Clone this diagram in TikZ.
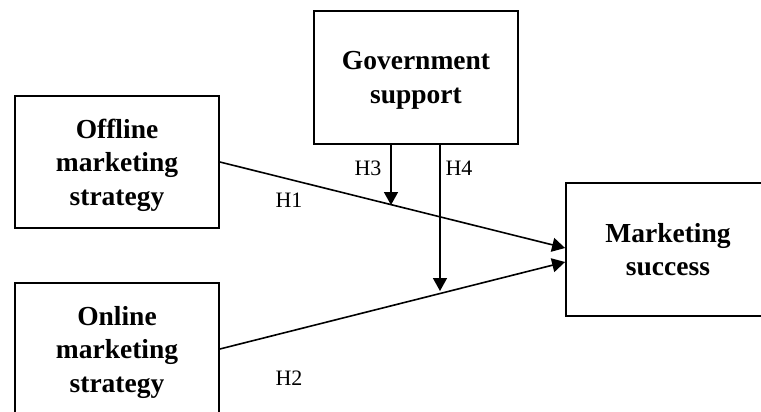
\documentclass[tikz,border=0pt]{standalone}
\usepackage{fontspec}
\setmainfont{Liberation Serif}
\usetikzlibrary{arrows.meta,calc}
\begin{document}
\begin{tikzpicture}[x=1pt,y=-1pt,
  box/.style={draw,line width=1.8pt,minimum width=204pt,minimum height=132pt,align=center,
    font=\bfseries\fontsize{27.5}{33.5}\selectfont,inner sep=0pt,text depth=0pt},
  link/.style={line width=1.6pt,-{Triangle[length=13pt,width=14pt]}},
  hlab/.style={font=\fontsize{22}{26}\selectfont,inner sep=0pt}]
\useasboundingbox (0,0) rectangle (761,412);
\node[box] (off) at (117,162) {Offline\\marketing\\strategy};
\node[box] (onl) at (117,349) {Online\\marketing\\strategy};
\node[box,minimum height=133pt] (gov) at (416,77.5) {Government\\support};
\node[box,minimum height=133pt] (ms) at (668,249.5) {Marketing\\success};
\draw[link] (off.east) -- ([yshift=1.5pt]ms.west);
\draw[link] (onl.east) -- ([yshift=-12.5pt]ms.west);
\coordinate (h3end) at (391,205);
\coordinate (h4end) at (440,291);
\draw[link] (gov.south -| h3end) -- (h3end);
\draw[link] (gov.south -| h4end) -- (h4end);
\node[hlab] (h1) at (289,200) {H1};
\node[hlab] (h2) at (289,378) {H2};
\node[hlab] (h3) at (368,168) {H3};
\node[hlab] (h4) at (459,168) {H4};
\end{tikzpicture}
\end{document}
